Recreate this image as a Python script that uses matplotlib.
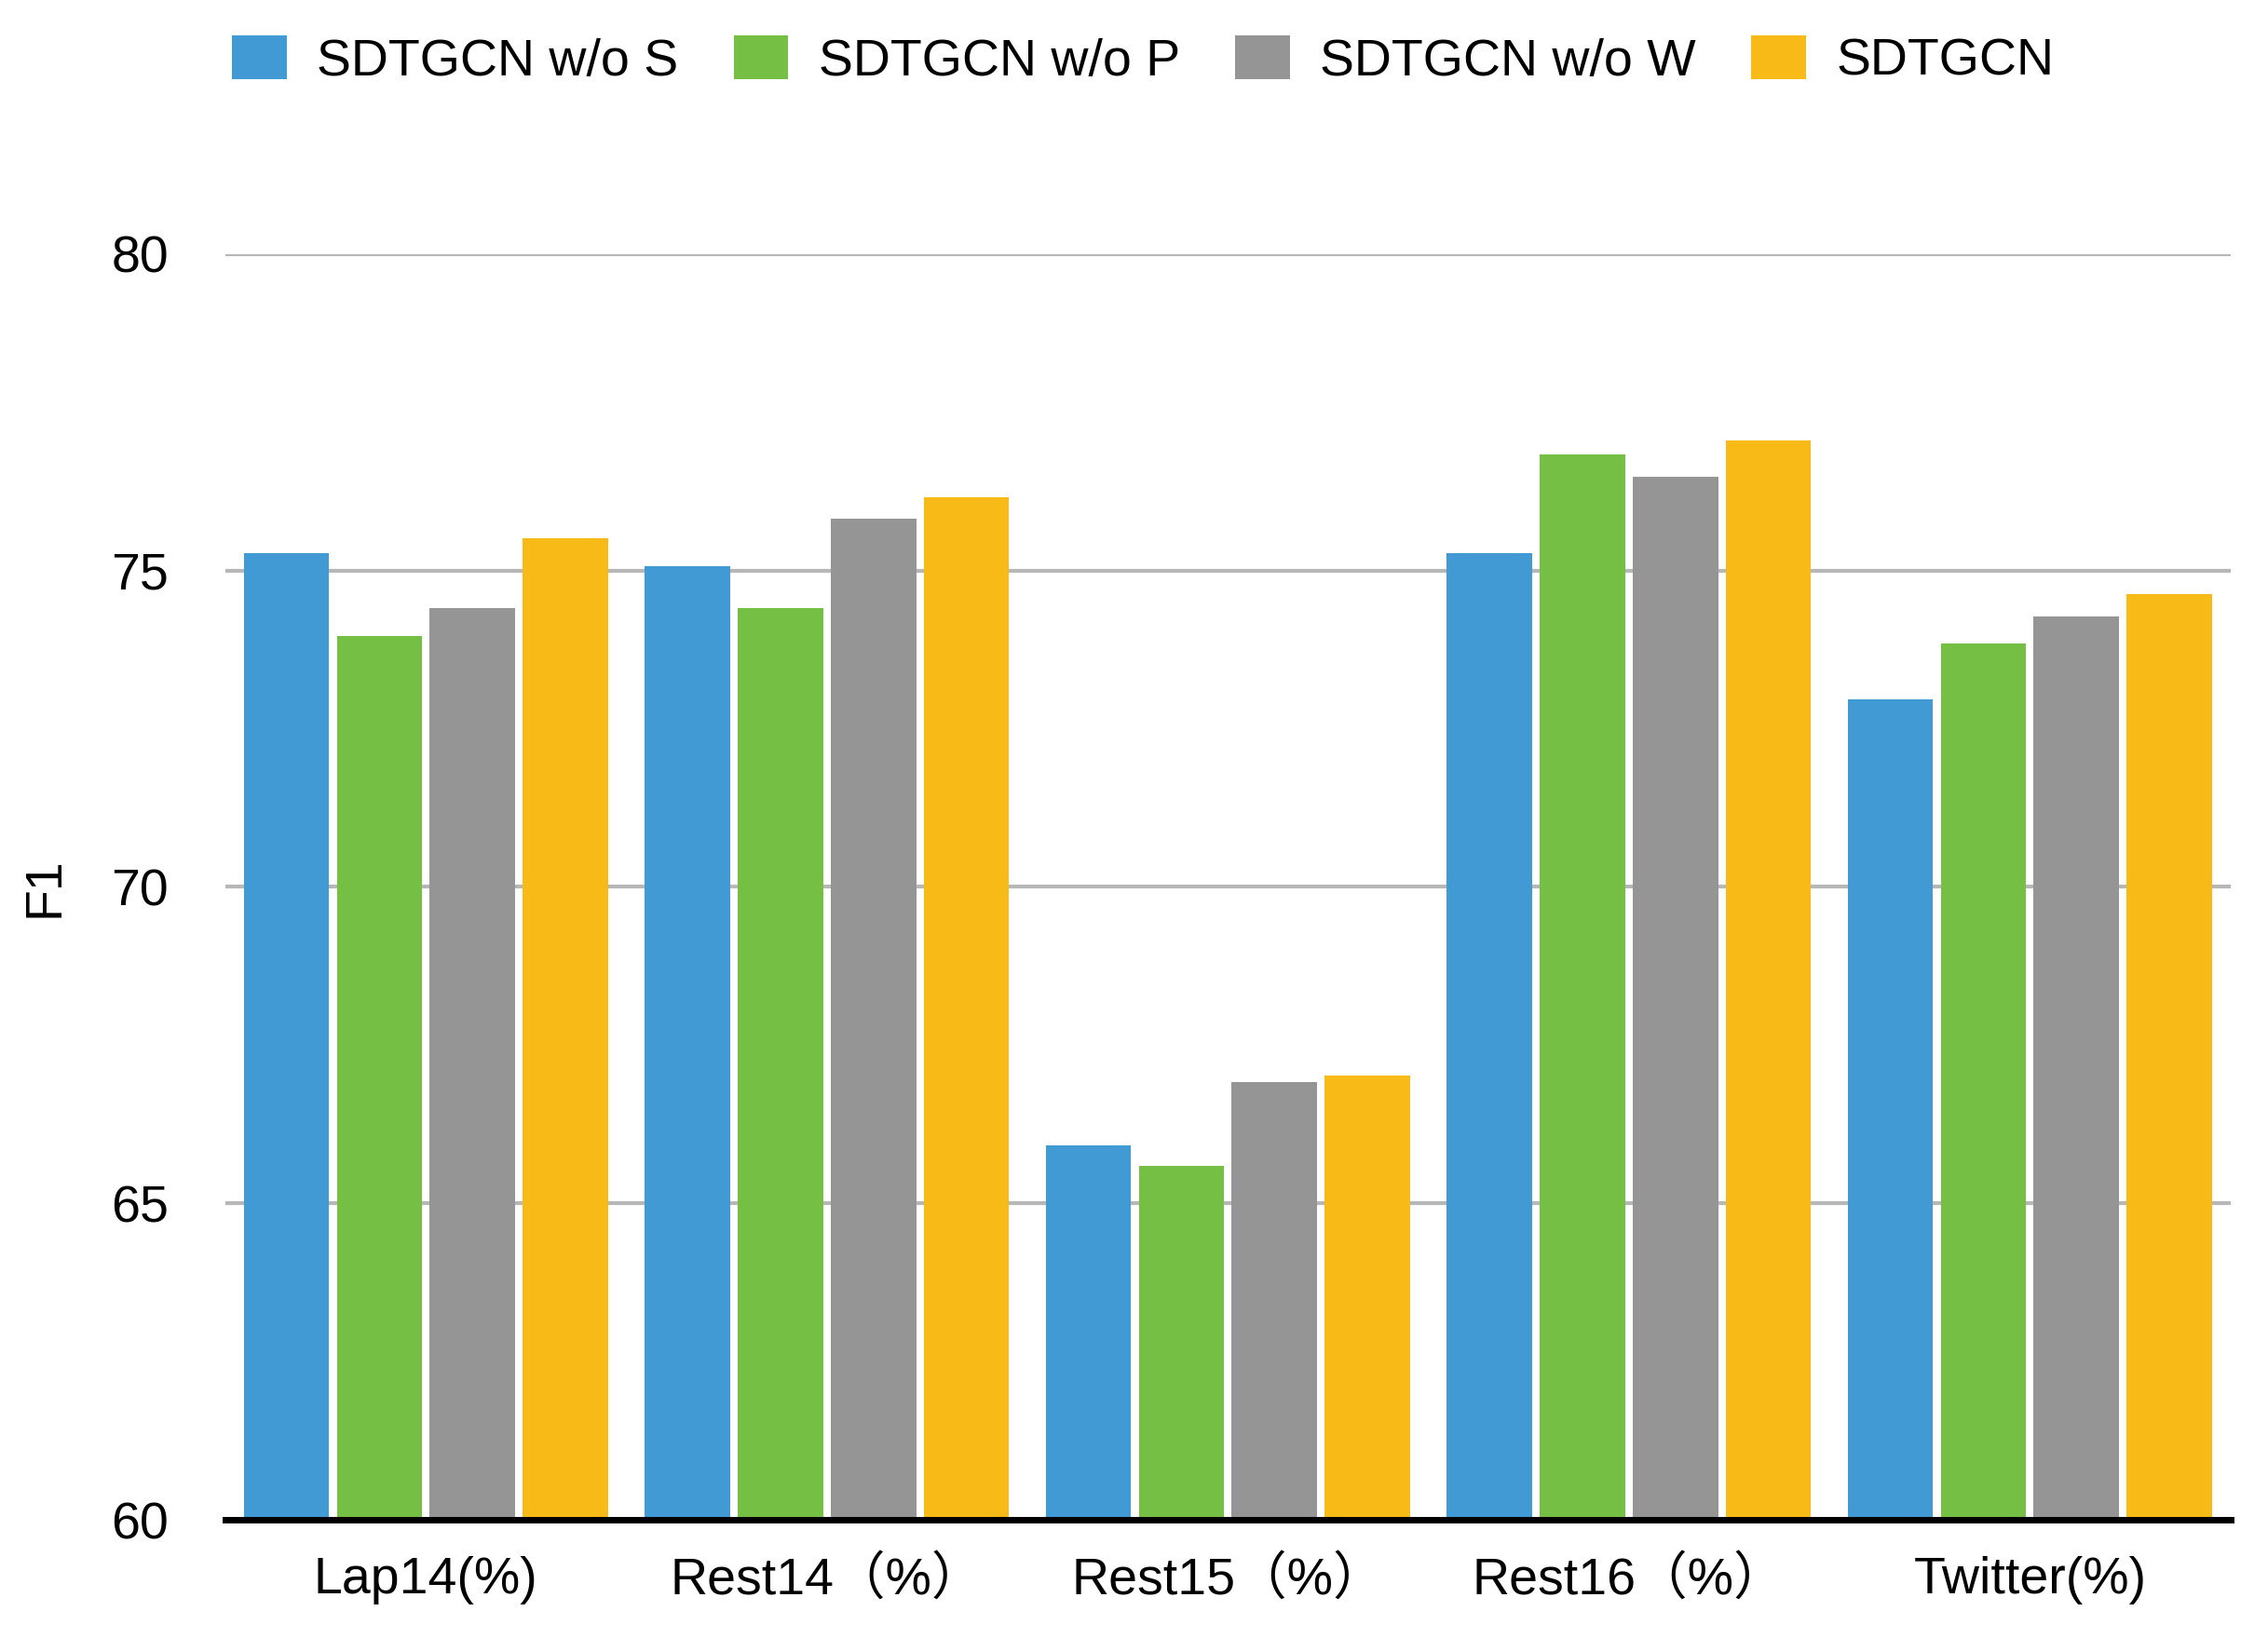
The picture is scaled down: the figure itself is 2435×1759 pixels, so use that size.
import matplotlib
matplotlib.use('Agg')
import matplotlib.pyplot as plt
import numpy as np

plt.rcParams['font.family'] = ['Liberation Sans', 'Noto Sans CJK SC', 'DejaVu Sans']

# data
datasets = ['Lap14(%)', 'Rest14（%）', 'Rest15（%）', 'Rest16（%）', 'Twitter(%)']
models = ['SDTGCN w/o S', 'SDTGCN w/o P', 'SDTGCN w/o W', 'SDTGCN']
wo_s = [75.28, 75.06, 65.92, 75.28, 72.96]
wo_p = [73.96, 74.40, 65.60, 76.83, 73.84]
wo_w = [74.40, 75.82, 66.92, 76.48, 74.28]
full = [75.51, 76.16, 67.02, 77.05, 74.62]
colors = ['#429AD4', '#75BF44', '#959595', '#F7BA16']

def main():
  fig = plt.figure(figsize=(12.175, 8.795), dpi=200)
  ax = fig.add_axes([0.0994, 0.072, 0.884, 0.773])

  x = np.arange(len(datasets))
  width = 0.213
  pitch = 0.232
  series = [wo_s, wo_p, wo_w, full]
  for i, vals in enumerate(series):
    off = (i - 1.5) * pitch
    ax.bar(x + off, np.array(vals) - 60, width, bottom=60, color=colors[i],
           label=models[i], zorder=3)

  ax.set_xlim(-0.5, len(datasets) - 0.5)
  ax.set_ylim(60, 80)
  ax.set_yticks([60, 65, 70, 75, 80])
  ax.set_xticks(x)
  ax.set_xticklabels(datasets)
  ax.tick_params(axis='both', length=0, labelsize=20)
  ax.tick_params(axis='x', pad=14)
  ax.tick_params(axis='y', pad=22)
  ax.yaxis.grid(True, color='#B7B7B7', linewidth=1.5, zorder=0)
  ax.set_axisbelow(True)
  for s in ['top', 'right', 'left']:
    ax.spines[s].set_visible(False)
  ax.spines['bottom'].set_color('black')
  ax.spines['bottom'].set_linewidth(2.5)
  ax.spines['bottom'].set_zorder(4)
  ax.set_ylabel('F1', fontsize=20, labelpad=10)
  ax.yaxis.set_label_coords(-0.078, 0.5)

  fig.legend(loc='center', bbox_to_anchor=(0.504, 0.963), ncol=4,
             frameon=False, fontsize=20, handlelength=1.06, handleheight=0.94,
             handletextpad=0.58, columnspacing=1.07)

  fig.savefig('out.png', dpi=200)
  plt.close()

if __name__ == '__main__':
  main()
